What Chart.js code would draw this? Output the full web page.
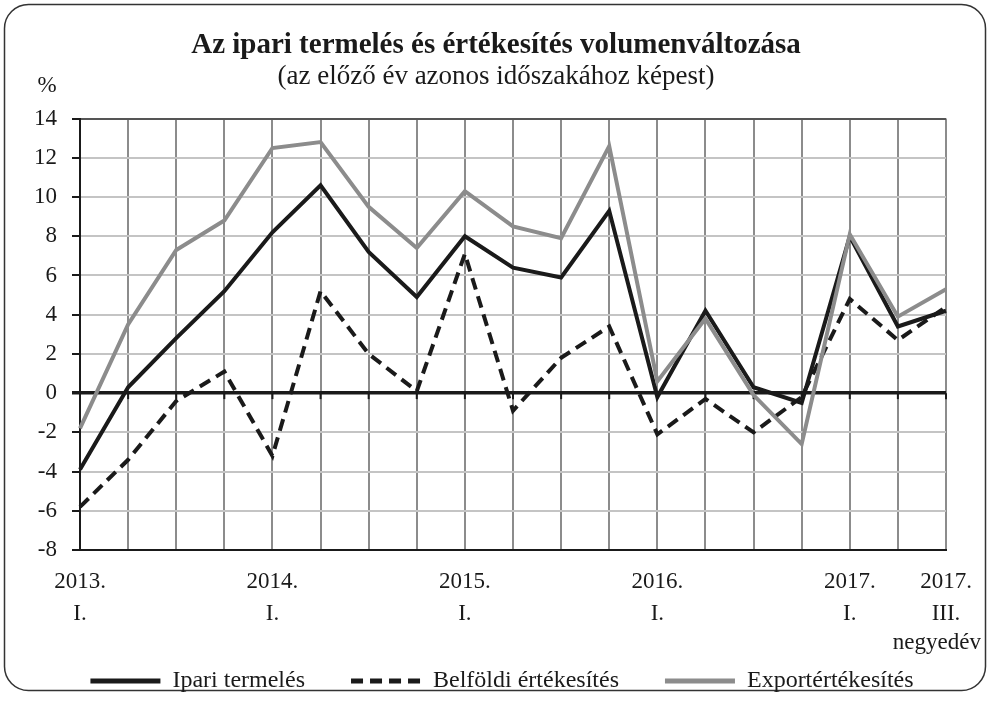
<!DOCTYPE html>
<html>
<head>
<meta charset="utf-8">
<script src="https://cdn.jsdelivr.net/npm/chart.js@4.4.1/dist/chart.umd.min.js"></script>
<style>
  html,body{margin:0;padding:0;background:#fff}
  canvas{display:block}
</style>
</head>
<body>
<canvas id="c" width="988" height="715"></canvas>
<script>
// ─── DATA ───────────────────────────────────────────────────────────
const quarters = [
  ['2013.','I.'],'','','',
  ['2014.','I.'],'','','',
  ['2015.','I.'],'','','',
  ['2016.','I.'],'','','',
  ['2017.','I.'],'',['2017.','III.']
];
const ipari    = [-3.9, 0.3, 2.8, 5.2, 8.2, 10.6, 7.2, 4.9, 8.0, 6.4, 5.9, 9.3, -0.2, 4.2, 0.3, -0.5, 8.0, 3.4, 4.2];
const belfoldi = [-5.8, -3.4, -0.4, 1.1, -3.2, 5.2, 2.0, 0.1, 7.1, -0.9, 1.8, 3.4, -2.1, -0.3, -2.0, -0.2, 4.8, 2.7, 4.4];
const exportv  = [-1.8, 3.5, 7.3, 8.8, 12.5, 12.8, 9.5, 7.4, 10.3, 8.5, 7.9, 12.6, 0.6, 3.8, -0.1, -2.6, 8.1, 3.9, 5.3];
const yMin = -8, yMax = 14, yStep = 2;

const FONT = "'Liberation Serif', 'DejaVu Serif', serif";
const INK = '#1a1a1a';
const GREY = '#8c8c8c';

// frame, % sign, unit note, zero-line ticks
const decor = {
  id:'decor',
  afterLayout(chart){
    // title block and legend sit a bit right of the plot centre in the original
    chart.boxes.forEach(b=>{
      let dx = 0;
      if(b === chart.legend) dx = 29;
      else if(b.options && typeof b.options.text === 'string') dx = 23;
      b.left += dx; b.right += dx;
    });
  },
  beforeDraw(chart){
    const ctx = chart.ctx;
    ctx.save();
    ctx.fillStyle = '#fff';
    ctx.fillRect(0,0,chart.width,chart.height);
    ctx.beginPath();
    ctx.roundRect(4.5,4.5,981,686,24);
    ctx.strokeStyle = '#333';
    ctx.lineWidth = 1.5;
    ctx.stroke();
    ctx.restore();
  },
  beforeDatasetsDraw(chart){
    const {ctx, scales:{x,y}} = chart;
    const y0 = y.getPixelForValue(0);
    ctx.save();
    ctx.strokeStyle = INK;
    ctx.lineWidth = 2;
    quarters.forEach((q,i)=>{
      const px = x.getPixelForValue(i);
      ctx.beginPath(); ctx.moveTo(px,y0); ctx.lineTo(px,y0+6); ctx.stroke();
    });
    ctx.restore();
  },
  afterDraw(chart){
    const ctx = chart.ctx;
    ctx.save();
    ctx.fillStyle = INK;
    ctx.font = '23px ' + FONT;
    ctx.textBaseline = 'middle';
    ctx.textAlign = 'center';
    ctx.fillText('%', 47, 86);
    ctx.textAlign = 'right';
    ctx.fillText('negyedév', 981, 643);
    ctx.restore();
  }
};

const LEG_PAD = 46;

new Chart(document.getElementById('c'), {
  type:'line',
  data:{
    labels: quarters,
    datasets:[
      {label:'Ipari termelés', data:ipari, borderColor:INK, backgroundColor:INK, borderWidth:4, order:1},
      {label:'Belföldi értékesítés', data:belfoldi, borderColor:INK, backgroundColor:INK, borderWidth:4, borderDash:[12,7], order:2},
      {label:'Exportértékesítés', data:exportv, borderColor:GREY, backgroundColor:GREY, borderWidth:4, order:0}
    ]
  },
  options:{
    responsive:false,
    animation:false,
    devicePixelRatio:1,
    layout:{padding:{top:30, left:0, right:42, bottom:12}},
    elements:{point:{radius:0, hoverRadius:0}, line:{tension:0}},
    plugins:{
      tooltip:{enabled:false},
      title:{display:true, text:'Az ipari termelés és értékesítés volumenváltozása', color:INK,
        font:{family:FONT, size:29, weight:'bold', lineHeight:1.1}, padding:{top:0,bottom:0}},
      subtitle:{display:true, text:'(az előző év azonos időszakához képest)', color:INK,
        font:{family:FONT, size:27, lineHeight:1.1}, padding:{top:0,bottom:27}},
      legend:{position:'bottom',
        labels:{color:INK, font:{family:FONT, size:24}, usePointStyle:true, pointStyle:'line',
          pointStyleWidth:70, padding:LEG_PAD,
          sort:(a,b)=>a.datasetIndex-b.datasetIndex,
          generateLabels(chart){
            const items = Chart.defaults.plugins.legend.labels.generateLabels(chart);
            items.forEach(it=>{
              const ds = chart.data.datasets[it.datasetIndex];
              it.lineDash = ds.borderDash || [];
              it.lineWidth = 5;
              it.strokeStyle = ds.borderColor;
            });
            return items;
          }}}
    },
    scales:{
      x:{
        grid:{color:GREY, lineWidth:2, drawTicks:false},
        border:{color:INK, width:2},
        ticks:{color:INK, font:{family:FONT, size:23, lineHeight:1.39}, padding:16, autoSkip:false, maxRotation:0},
        afterFit(s){ s.height = 119 - LEG_PAD; }
      },
      y:{
        min:yMin, max:yMax,
        grid:{
          color:c=>c.tick.value===0?INK:(c.tick.value===yMax?'#555':'#c4c4c4'),
          lineWidth:c=>c.tick.value===0?3.5:2,
          tickColor:INK, tickLength:8
        },
        border:{color:INK, width:2},
        ticks:{stepSize:yStep, color:INK, font:{family:FONT, size:23}, padding:15},
        afterFit(s){ s.width = 80; }
      }
    }
  },
  plugins:[decor]
});
</script>
</body>
</html>
